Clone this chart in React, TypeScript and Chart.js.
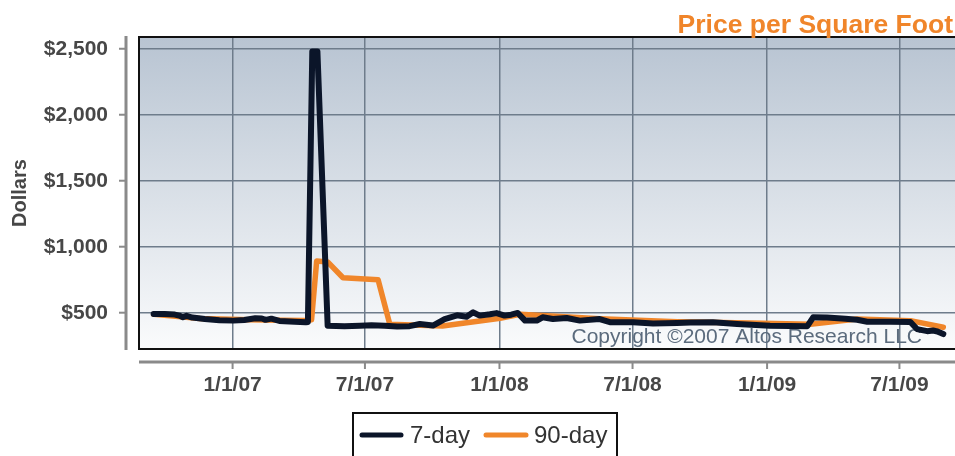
import React, { useEffect, useRef } from "react";
import { Chart, registerables } from "chart.js";

Chart.register(...registerables);

const TITLE = "Price per Square Foot";
const Y_TITLE = "Dollars";
const COPYRIGHT = "Copyright ©2007 Altos Research LLC";
const SERIES_NAMES = ["7-day", "90-day"];

const X_MIN_DATE = "2006-08-26";
const X_MAX_DATE = "2009-09-15";
const X_TICK_DATES = ["2007-01-01", "2007-07-01", "2008-01-01", "2008-07-01", "2009-01-01", "2009-07-01"];
const X_TICK_LABELS = ["1/1/07", "7/1/07", "1/1/08", "7/1/08", "1/1/09", "7/1/09"];

const Y_MIN = 225;
const Y_MAX = 2589;
const Y_TICKS = [500, 1000, 1500, 2000, 2500];

const SEVEN_DAY_DATES = [
  "2006-09-15", "2006-09-30", "2006-10-14", "2006-10-20", "2006-10-25", "2006-10-30",
  "2006-11-07", "2006-11-24", "2006-12-14", "2007-01-02", "2007-01-17", "2007-02-01",
  "2007-02-10", "2007-02-15", "2007-02-23", "2007-03-06", "2007-03-27", "2007-04-11",
  "2007-04-14", "2007-04-20", "2007-04-27", "2007-05-11", "2007-06-03", "2007-06-24",
  "2007-07-10", "2007-07-28", "2007-08-14", "2007-08-31", "2007-09-14", "2007-10-02",
  "2007-10-18", "2007-11-04", "2007-11-17", "2007-11-26", "2007-12-05", "2007-12-19",
  "2007-12-28", "2008-01-08", "2008-01-17", "2008-01-26", "2008-02-05", "2008-02-21",
  "2008-02-29", "2008-03-14", "2008-04-02", "2008-04-20", "2008-05-17", "2008-05-31",
  "2008-07-02", "2008-07-29", "2008-08-31", "2008-09-18", "2008-10-19", "2008-11-21",
  "2009-01-05", "2009-02-01", "2009-02-25", "2009-03-05", "2009-03-24", "2009-04-18",
  "2009-05-04", "2009-05-18", "2009-06-18", "2009-07-16", "2009-07-25", "2009-08-08",
  "2009-08-16", "2009-08-22", "2009-08-30",
];
const SEVEN_DAY_VALUES = [
  490, 490, 486, 478, 466, 476,
  463, 452, 443, 440, 445, 458,
  456, 446, 455, 438, 432, 427,
  430, 2480, 2480, 402, 398, 402,
  405, 402, 395, 398, 414, 403,
  452, 480, 470, 503, 478, 488,
  497, 478, 485, 498, 440, 440,
  465, 452, 460, 440, 452, 428,
  428, 418, 422, 425, 428, 415,
  402, 400, 398, 465, 463, 455,
  447, 432, 432, 430, 376, 360,
  365, 358, 338,
];

const NINETY_DAY_DATES = [
  "2006-09-15", "2006-11-17", "2007-01-24", "2007-03-06", "2007-04-11", "2007-04-19",
  "2007-04-26", "2007-05-11", "2007-06-01", "2007-07-19", "2007-08-04", "2007-10-15",
  "2008-01-02", "2008-01-29", "2008-05-17", "2008-08-31", "2008-12-09", "2009-03-01",
  "2009-05-04", "2009-07-16", "2009-08-30",
];
const NINETY_DAY_VALUES = [
  488, 456, 447, 442, 440, 447,
  892, 885, 765, 750, 412, 400,
  458, 488, 455, 432, 422, 412,
  452, 440, 390,
];

const COLOR_SEVEN = "#0b1529";
const COLOR_NINETY = "#f0862a";
const COLOR_TITLE = "#f0852a";
const COLOR_TEXT = "#474747";
const COLOR_AXIS = "#8a8a8a";
const COLOR_GRID = "#6e7c8b";
const COLOR_COPY = "#5b6b7d";
const FONT = "'Liberation Sans', Arial, sans-serif";

const toMs = (d: string) => {
  const [y, m, day] = d.split("-").map(Number);
  return Date.UTC(y, m - 1, day);
};

const decor = {
  id: "decor",
  beforeDraw(chart: any) {
    const { ctx, chartArea: a } = chart;
    const g = ctx.createLinearGradient(0, a.top, 0, a.bottom);
    g.addColorStop(0, "#b8c4d2");
    g.addColorStop(1, "#fafbfc");
    ctx.save();
    ctx.fillStyle = g;
    ctx.fillRect(a.left, a.top, a.right - a.left, a.bottom - a.top);
    ctx.restore();
  },
  beforeDatasetsDraw(chart: any) {
    const { ctx, chartArea: a } = chart;
    ctx.save();
    ctx.font = `21px ${FONT}`;
    ctx.fillStyle = COLOR_COPY;
    ctx.textAlign = "right";
    ctx.textBaseline = "alphabetic";
    ctx.fillText(COPYRIGHT, a.right - 33, a.bottom - 6);
    ctx.restore();
  },
  afterDraw(chart: any) {
    const { ctx, chartArea: a, scales } = chart;
    ctx.save();
    ctx.strokeStyle = "#111";
    ctx.lineWidth = 2;
    ctx.beginPath();
    ctx.moveTo(a.right, a.top);
    ctx.lineTo(a.left, a.top);
    ctx.lineTo(a.left, a.bottom);
    ctx.lineTo(a.right, a.bottom);
    ctx.stroke();

    ctx.strokeStyle = COLOR_AXIS;
    ctx.lineWidth = 3;
    ctx.beginPath();
    ctx.moveTo(a.left - 13, a.top - 1);
    ctx.lineTo(a.left - 13, a.bottom + 1);
    ctx.stroke();
    ctx.lineWidth = 2;
    for (const v of Y_TICKS) {
      const y = scales.y.getPixelForValue(v);
      ctx.beginPath();
      ctx.moveTo(a.left - 20, y);
      ctx.lineTo(a.left - 13, y);
      ctx.stroke();
    }
    ctx.lineWidth = 3;
    ctx.beginPath();
    ctx.moveTo(a.left, a.bottom + 13);
    ctx.lineTo(a.right, a.bottom + 13);
    ctx.stroke();
    ctx.lineWidth = 2;
    for (const d of X_TICK_DATES) {
      const x = scales.x.getPixelForValue(toMs(d));
      ctx.beginPath();
      ctx.moveTo(x, a.bottom + 13);
      ctx.lineTo(x, a.bottom + 20);
      ctx.stroke();
    }

    ctx.fillStyle = COLOR_TITLE;
    ctx.font = `bold 26.5px ${FONT}`;
    ctx.textAlign = "right";
    ctx.textBaseline = "alphabetic";
    ctx.fillText(TITLE, 953, 33);

    ctx.save();
    ctx.translate(20, (a.top + a.bottom) / 2);
    ctx.rotate(-Math.PI / 2);
    ctx.fillStyle = COLOR_TEXT;
    ctx.font = `bold 20px ${FONT}`;
    ctx.textAlign = "center";
    ctx.textBaseline = "middle";
    ctx.fillText(Y_TITLE, 0, 0);
    ctx.restore();

    ctx.strokeStyle = "#111";
    ctx.lineWidth = 2;
    ctx.strokeRect(353, 413, 264, 60);
    ctx.lineCap = "round";
    ctx.lineWidth = 5;
    ctx.strokeStyle = COLOR_SEVEN;
    ctx.beginPath();
    ctx.moveTo(362, 435);
    ctx.lineTo(401, 435);
    ctx.stroke();
    ctx.strokeStyle = COLOR_NINETY;
    ctx.beginPath();
    ctx.moveTo(486, 435);
    ctx.lineTo(526, 435);
    ctx.stroke();
    ctx.fillStyle = "#333";
    ctx.font = `24px ${FONT}`;
    ctx.textAlign = "left";
    ctx.textBaseline = "middle";
    ctx.fillText(SERIES_NAMES[0], 410, 436);
    ctx.fillText(SERIES_NAMES[1], 534, 436);
    ctx.restore();
  },
};

export default function App() {
  const ref = useRef<HTMLCanvasElement | null>(null);
  useEffect(() => {
    if (!ref.current) return;
    const xTickValues = X_TICK_DATES.map(toMs);
    const chart = new Chart(ref.current, {
      type: "line",
      data: {
        datasets: [
          {
            label: SERIES_NAMES[0],
            data: SEVEN_DAY_DATES.map((d, i) => ({ x: toMs(d), y: SEVEN_DAY_VALUES[i] })),
            borderColor: COLOR_SEVEN,
            borderWidth: 6,
            pointRadius: 0,
            fill: false,
          },
          {
            label: SERIES_NAMES[1],
            data: NINETY_DAY_DATES.map((d, i) => ({ x: toMs(d), y: NINETY_DAY_VALUES[i] })),
            borderColor: COLOR_NINETY,
            borderWidth: 5.5,
            pointRadius: 0,
            fill: false,
          },
        ],
      },
      options: {
        animation: false,
        responsive: false,
        maintainAspectRatio: false,
        layout: { padding: { top: 37, left: 0, right: 0, bottom: 0 } },
        elements: {
          line: { tension: 0, borderJoinStyle: "round", borderCapStyle: "round" },
          point: { radius: 0 },
        },
        plugins: {
          legend: { display: false },
          tooltip: { enabled: false },
          title: { display: false },
        },
        scales: {
          x: {
            type: "linear",
            min: toMs(X_MIN_DATE),
            max: toMs(X_MAX_DATE),
            afterBuildTicks: (s: any) => {
              s.ticks = xTickValues.map((v) => ({ value: v }));
            },
            afterFit: (s: any) => {
              s.height = 107;
              s.paddingLeft = 0;
              s.paddingRight = 0;
              s.paddingTop = 0;
              s.paddingBottom = 0;
            },
            grid: { color: COLOR_GRID, lineWidth: 1.5, drawTicks: false },
            border: { display: false },
            ticks: {
              padding: 24,
              autoSkip: false,
              maxRotation: 0,
              color: COLOR_TEXT,
              font: { family: FONT, size: 21, weight: "bold" },
              callback: (v: any) => {
                const i = xTickValues.indexOf(Number(v));
                return i >= 0 ? X_TICK_LABELS[i] : "";
              },
            },
          },
          y: {
            type: "linear",
            min: Y_MIN,
            max: Y_MAX,
            afterBuildTicks: (s: any) => {
              s.ticks = Y_TICKS.map((v) => ({ value: v }));
            },
            afterFit: (s: any) => {
              s.width = 139;
              s.paddingLeft = 0;
              s.paddingRight = 0;
              s.paddingTop = 0;
              s.paddingBottom = 0;
            },
            grid: { color: COLOR_GRID, lineWidth: 1.5, drawTicks: false },
            border: { display: false },
            ticks: {
              padding: 31,
              color: COLOR_TEXT,
              font: { family: FONT, size: 21, weight: "bold" },
              callback: (v: any) => "$" + Number(v).toLocaleString("en-US"),
            },
          },
        },
      },
      plugins: [decor],
    } as any);
    return () => chart.destroy();
  }, []);

  return (
    <div style={{ position: "absolute", left: 0, top: 0, width: 955, height: 456 }}>
      <canvas ref={ref} width={955} height={456} style={{ display: "block", width: 955, height: 456 }} />
    </div>
  );
}
